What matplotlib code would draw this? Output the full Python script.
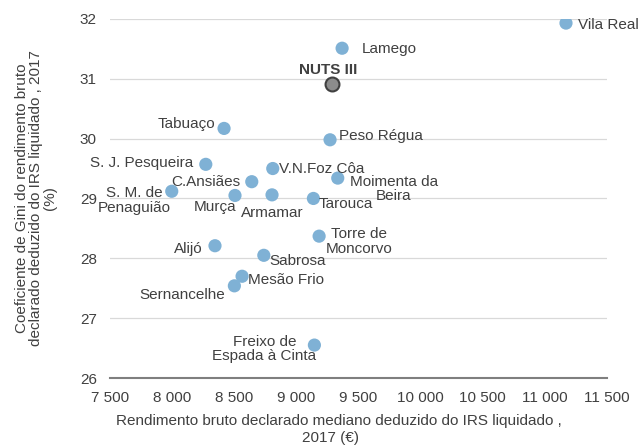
import matplotlib
matplotlib.use('Agg')
import matplotlib.pyplot as plt
from matplotlib.ticker import FuncFormatter

plt.rcParams['font.family'] = ['Liberation Sans', 'DejaVu Sans']

# municipalities
names = ['Vila Real', 'Lamego', 'Tabuaço', 'Peso Régua', 'S. J. Pesqueira',
         'V.N.Foz Côa', 'C.Ansiães', 'Moimenta da\nBeira', 'S. M. de\nPenaguião',
         'Murça', 'Armamar', 'Tarouca', 'Torre de\nMoncorvo', 'Alijó', 'Sabrosa',
         'Mesão Frio', 'Sernancelhe', 'Freixo de\nEspada à Cinta']
rendimento = [11170, 9368, 8418, 9271, 8271, 8810, 8641, 9333, 7997,
              8506, 8804, 9137, 9183, 8345, 8738, 8563, 8501, 9145]
gini = [31.93, 31.51, 30.17, 29.98, 29.57, 29.50, 29.28, 29.34, 29.12,
        29.05, 29.06, 29.00, 28.37, 28.21, 28.05, 27.70, 27.54, 26.55]

nuts_name = 'NUTS III'
nuts_x = 9287
nuts_y = 30.91

xticks = [7500, 8000, 8500, 9000, 9500, 10000, 10500, 11000, 11500]
yticks = [26, 27, 28, 29, 30, 31, 32]

# label placement: (dx px, dy px downward, ha)
lab_pos = {
    'Vila Real': (12, 2, 'left'),
    'Lamego': (20, 1, 'left'),
    'Tabuaço': (-9, -4, 'right'),
    'Peso Régua': (9, -3.5, 'left'),
    'S. J. Pesqueira': (-13, -1, 'right'),
    'V.N.Foz Côa': (6, 0, 'left'),
    'C.Ansiães': (-11, 0, 'right'),
    'Moimenta da\nBeira': (12, 11, 'left'),
    'S. M. de\nPenaguião': (-1, 9.5, 'right'),
    'Murça': (1, 12, 'right'),
    'Armamar': (0, 18, 'center'),
    'Tarouca': (5, 6, 'left'),
    'Torre de\nMoncorvo': (7, 5.6, 'left'),
    'Alijó': (-12, 3, 'right'),
    'Sabrosa': (6, 6, 'left'),
    'Mesão Frio': (6, 4, 'left'),
    'Sernancelhe': (-9, 9, 'right'),
    'Freixo de\nEspada à Cinta': (2, 4, 'right'),
}

txt_col = '#404040'
fs = 11

fig = plt.figure(figsize=(6.42, 4.48), dpi=100)
ax = fig.add_axes([110/642, 1-378/448, (607-110)/642, (378-18.9)/448])

ax.scatter(rendimento, gini, s=90, color='#7fb1d5', edgecolors='none', zorder=3)
ax.scatter([nuts_x], [nuts_y], s=100, color='#8c8c8c', edgecolors='#404040',
           linewidths=1.5, zorder=4)

for n, x, y in zip(names, rendimento, gini):
    dx, dy, ha = lab_pos[n]
    ax.annotate(n, (x, y), xytext=(dx, -dy), textcoords='offset pixels',
                ha=ha, va='center', multialignment='center', linespacing=1.05,
                fontsize=fs, color=txt_col, zorder=5)
ax.annotate(nuts_name, (nuts_x, nuts_y), xytext=(-4, 14), textcoords='offset pixels',
            ha='center', va='center', fontsize=fs, fontweight='bold',
            color=txt_col, zorder=5)

ax.set_xlim(7500, 11500)
ax.set_ylim(26, 32)
ax.set_xticks(xticks)
ax.set_yticks(yticks)
ax.xaxis.set_major_formatter(FuncFormatter(lambda v, p: '{:,.0f}'.format(v).replace(',', ' ')))
ax.yaxis.grid(True, color='#d9d9d9', lw=0.9)
ax.set_axisbelow(True)
for s in ['top', 'right', 'left']:
    ax.spines[s].set_visible(False)
ax.spines['bottom'].set_color('#7f7f7f')
ax.spines['bottom'].set_linewidth(1.5)
ax.tick_params(axis='both', length=0, labelsize=fs, labelcolor=txt_col)
ax.tick_params(axis='x', pad=9)
ax.tick_params(axis='y', pad=9.5)

ax.set_xlabel('Rendimento bruto declarado mediano deduzido do IRS liquidado ,\n2017 (€)    ',
              fontsize=fs, color=txt_col, linespacing=1.32)
ax.xaxis.set_label_coords(0.461, -0.099)
ax.xaxis.label.set_va('top')
ax.set_ylabel('Coeficiente de Gini do rendimento bruto\ndeclarado deduzido do IRS liquidado , 2017\n(%)',
              fontsize=fs, color=txt_col, linespacing=1.03)
ax.yaxis.set_label_coords(-0.149, 0.5)
ax.yaxis.label.set_va('center')

fig.savefig('out.png', dpi=100)
